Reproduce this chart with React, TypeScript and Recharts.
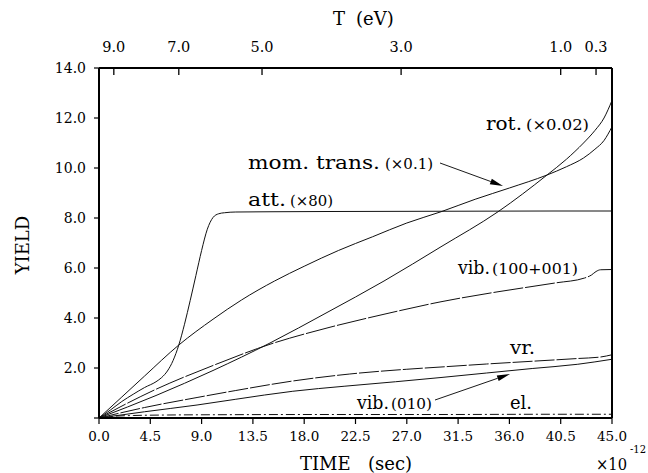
import React from 'react';
import { LineChart, Line, XAxis, YAxis } from 'recharts';

// ---- axis ticks ----
const xTicks = [0, 4.5, 9, 13.5, 18, 22.5, 27, 31.5, 36, 40.5, 45];
const yTicks = [0, 2, 4, 6, 8, 10, 12, 14];
const topTickTimes = [1.3, 7.0, 14.3, 26.5, 40.5, 43.6];
const topTickLabels = ['9.0', '7.0', '5.0', '3.0', '1.0', '0.3'];

// ---- series (time in 1e-12 s, yield) ----
const attT = [0, 1, 2, 3, 4, 5, 5.5, 6, 6.5, 7, 7.5, 8, 8.5, 9, 9.5, 10, 10.5, 11, 12, 15, 20, 30, 40, 45];
const attV = [0, 0.32, 0.66, 0.95, 1.22, 1.45, 1.62, 1.88, 2.3, 2.92, 3.75, 4.7, 5.7, 6.7, 7.55, 8.02, 8.17, 8.21, 8.24, 8.25, 8.26, 8.27, 8.28, 8.28];

const momT = [0, 2, 4, 7, 10, 12.5, 15.4, 18, 21, 24, 27, 30, 33, 36, 39.3, 41, 42.5, 43.5, 44.3, 45];
const momV = [0, 0.84, 1.68, 2.92, 3.95, 4.72, 5.48, 6.07, 6.7, 7.25, 7.8, 8.25, 8.75, 9.2, 9.72, 10.05, 10.4, 10.75, 11.1, 11.65];

const rotT = [0, 5, 10, 15, 20, 25, 30, 35, 39.3, 41, 42.5, 43.5, 44.3, 45];
const rotV = [0, 0.9, 1.9, 3.0, 4.22, 5.48, 6.85, 8.25, 9.72, 10.35, 11.0, 11.5, 12.0, 12.7];

const vibT = [0, 5, 10, 15, 20, 25, 30, 35, 40, 42.6, 43.2, 43.6, 44, 45];
const vibV = [0, 1.15, 2.1, 2.95, 3.6, 4.15, 4.65, 5.05, 5.4, 5.6, 5.72, 5.86, 5.93, 5.94];

const vrT = [0, 4, 8.6, 12, 17, 22, 27, 30, 34, 38, 42, 44, 45];
const vrV = [0, 0.42, 0.82, 1.1, 1.48, 1.76, 1.95, 2.04, 2.16, 2.27, 2.38, 2.44, 2.53];

const vib010T = [0, 4, 8.6, 12, 17, 21.5, 26, 30, 34, 38, 42, 45];
const vib010V = [0, 0.25, 0.52, 0.75, 1.07, 1.27, 1.45, 1.62, 1.8, 1.98, 2.15, 2.35];

const elT = [0, 1, 3, 6, 10, 20, 30, 40, 45];
const elV = [0, 0.06, 0.1, 0.12, 0.13, 0.14, 0.14, 0.15, 0.15];

const toPts = (t: number[], v: number[]) => t.map((x, i) => ({ t: x, v: v[i] }));

const series = [
  { key: 'att', data: toPts(attT, attV), dash: undefined as string | undefined },
  { key: 'mom', data: toPts(momT, momV), dash: undefined },
  { key: 'rot', data: toPts(rotT, rotV), dash: undefined },
  { key: 'vib', data: toPts(vibT, vibV), dash: '30 2' },
  { key: 'vr', data: toPts(vrT, vrV), dash: '20 2' },
  { key: 'vib010', data: toPts(vib010T, vib010V), dash: undefined },
  { key: 'el', data: toPts(elT, elV), dash: '9 3 2 3' },
];

const FONT = '"DejaVu Serif", "Liberation Serif", serif';

const TopTick = (props: any) => {
  const { x, y, payload } = props;
  const i = topTickTimes.indexOf(payload.value);
  return (
    <g>
      <line x1={x} x2={x} y1={y} y2={y + 7} stroke="#000" strokeWidth={1.3} />
      <text x={x} y={y - 16} textAnchor="middle" fontFamily={FONT} fontSize={14.5} fill="#000">
        {topTickLabels[i]}
      </text>
    </g>
  );
};

const Arrow = ({ x1, y1, x2, y2 }: { x1: number; y1: number; x2: number; y2: number }) => {
  const dx = x2 - x1, dy = y2 - y1;
  const len = Math.sqrt(dx * dx + dy * dy);
  const ux = dx / len, uy = dy / len;
  const hl = 13, hw = 3;
  const bx = x2 - ux * hl, by = y2 - uy * hl;
  const p = `${x2},${y2} ${bx - uy * hw},${by + ux * hw} ${bx + uy * hw},${by - ux * hw}`;
  return (
    <g>
      <line x1={x1} y1={y1} x2={bx} y2={by} stroke="#000" strokeWidth={0.9} />
      <polygon points={p} fill="#000" />
    </g>
  );
};

const W = 19; // word font size
const P = 15; // parenthesis font size

const Txt = ({ x, y, s, len, children }: { x: number; y: number; s: number; len: number; children: React.ReactNode }) => (
  <text x={x} y={y} fontSize={s} textLength={len} lengthAdjust="spacingAndGlyphs">
    {children}
  </text>
);

export default function App() {
  return (
    <div style={{ position: 'relative', width: 648, height: 473, background: '#fff' }}>
      <style>{'body{margin:0;}'}</style>
      <LineChart width={648} height={473} margin={{ top: 0, right: 0, bottom: 0, left: 0 }}>
        <XAxis
          xAxisId="b"
          dataKey="t"
          type="number"
          domain={[0, 45]}
          ticks={xTicks}
          allowDataOverflow
          height={55}
          tickFormatter={(v: number) => v.toFixed(1)}
          axisLine={{ stroke: '#000', strokeWidth: 2 }}
          tickLine={{ stroke: '#000', strokeWidth: 1.2 }}
          tickSize={6}
          tickMargin={7}
          tick={{ fontFamily: FONT, fontSize: 13.5, fill: '#000' }}
        />
        <XAxis
          xAxisId="top"
          orientation="top"
          dataKey="t"
          type="number"
          domain={[0, 45]}
          ticks={topTickTimes}
          allowDataOverflow
          height={68}
          tickLine={false}
          tickSize={0}
          tickMargin={0}
          axisLine={{ stroke: '#000', strokeWidth: 2 }}
          tick={TopTick}
        />
        <YAxis
          yAxisId="l"
          type="number"
          domain={[0, 14]}
          ticks={yTicks}
          allowDataOverflow
          width={99}
          tickFormatter={(v: number) => (v === 0 ? '' : v.toFixed(1))}
          axisLine={{ stroke: '#000', strokeWidth: 2 }}
          tickLine={{ stroke: '#000', strokeWidth: 1.2 }}
          tickSize={5}
          tickMargin={8}
          tick={{ fontFamily: FONT, fontSize: 14, fill: '#000' }}
        />
        <YAxis
          yAxisId="r"
          orientation="right"
          type="number"
          domain={[0, 14]}
          allowDataOverflow
          width={36}
          tick={false}
          tickLine={false}
          axisLine={{ stroke: '#000', strokeWidth: 2 }}
        />
        {series.map((s) => (
          <Line
            key={s.key}
            xAxisId="b"
            yAxisId="l"
            data={s.data}
            dataKey="v"
            type="monotone"
            dot={false}
            activeDot={false}
            stroke="#111"
            strokeWidth={1}
            strokeDasharray={s.dash}
            isAnimationActive={false}
          />
        ))}
      </LineChart>
      <svg
        width={648}
        height={473}
        style={{ position: 'absolute', left: 0, top: 0, pointerEvents: 'none' }}
        fontFamily={FONT}
        fill="#000"
      >
        {/* axis titles */}
        <text x={22} y={245} fontSize={18} textAnchor="middle" dominantBaseline="central" transform="rotate(-90 22 245)">
          YIELD
        </text>
        <text x={300} y={470} fontSize={18}>TIME</text>
        <text x={368} y={470} fontSize={18}>(sec)</text>
        <Txt x={596} y={470} s={17} len={31}>×10</Txt>
        <Txt x={630} y={453} s={11} len={16}>-12</Txt>
        <text x={333} y={25} fontSize={18}>T</text>
        <text x={356} y={25} fontSize={18}>(eV)</text>

        {/* curve annotations */}
        <Txt x={486} y={130} s={W} len={36}>rot.</Txt>
        <Txt x={526} y={130} s={P} len={63}>(×0.02)</Txt>

        <Txt x={248} y={169} s={W} len={132}>mom. trans.</Txt>
        <Txt x={385} y={169} s={P} len={48}>(×0.1)</Txt>
        <Arrow x1={440} y1={163} x2={503} y2={186} />

        <Txt x={248} y={206} s={W} len={38}>att.</Txt>
        <Txt x={290} y={206} s={P} len={43}>(×80)</Txt>

        <Txt x={458} y={274} s={W} len={32}>vib.</Txt>
        <Txt x={492} y={274} s={P} len={86}>(100+001)</Txt>

        <Txt x={510} y={354} s={W} len={25}>vr.</Txt>

        <Txt x={357} y={409} s={W} len={32}>vib.</Txt>
        <Txt x={391} y={409} s={P} len={41}>(010)</Txt>
        <Arrow x1={435} y1={400} x2={510} y2={374} />

        <Txt x={510} y={409} s={W} len={22}>el.</Txt>
      </svg>
    </div>
  );
}
